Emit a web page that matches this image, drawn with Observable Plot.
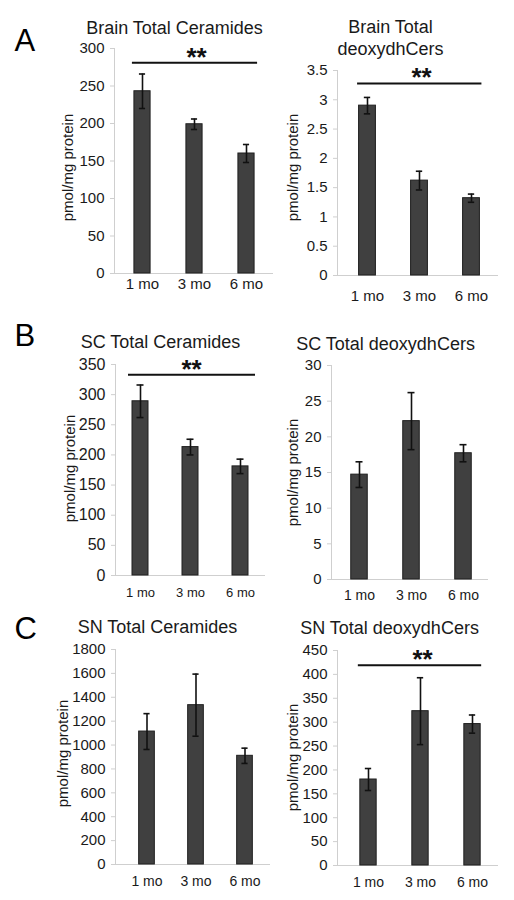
<!DOCTYPE html>
<html>
<head>
<meta charset="utf-8">
<script src="https://cdn.jsdelivr.net/npm/d3@7"></script>
<script src="https://cdn.jsdelivr.net/npm/@observablehq/plot@0.6"></script>
<style>
  html, body { margin: 0; padding: 0; background: #fff; }
  #page { position: relative; width: 514px; height: 900px; overflow: hidden; background: #fff; }
  .cell { position: absolute; }
</style>
</head>
<body>
<div id="page"></div>
<script>
// ---------- data ----------
const months = ["1 mo", "3 mo", "6 mo"];

const brainCerMean = [243, 199, 160];
const brainCerErr  = [23, 7, 12];
const brainDeoxyMean = [2.9, 1.62, 1.32];
const brainDeoxyErr  = [0.14, 0.16, 0.07];
const scCerMean = [289, 213, 181];
const scCerErr  = [27, 13, 12];
const scDeoxyMean = [14.7, 22.2, 17.7];
const scDeoxyErr  = [1.8, 4.0, 1.2];
const snCerMean = [1113, 1334, 910];
const snCerErr  = [150, 260, 64];
const snDeoxyMean = [180, 323, 296];
const snDeoxyErr  = [23, 70, 19];

const brainCerTicks = [0, 50, 100, 150, 200, 250, 300];
const brainDeoxyTicks = [0, 0.5, 1, 1.5, 2, 2.5, 3, 3.5];
const scCerTicks = [0, 50, 100, 150, 200, 250, 300, 350];
const scDeoxyTicks = [0, 5, 10, 15, 20, 25, 30];
const snCerTicks = [0, 200, 400, 600, 800, 1000, 1200, 1400, 1600, 1800];
const snDeoxyTicks = [0, 50, 100, 150, 200, 250, 300, 350, 400, 450];

// significance bar levels (null = none)
const brainCerSig = 281;
const brainDeoxySig = 3.28;
const scCerSig = 333;
const scDeoxySig = null;
const snCerSig = null;
const snDeoxySig = 419;

const titles = ["Brain Total Ceramides", "Brain Total\ndeoxydhCers", "SC Total Ceramides",
                "SC Total deoxydhCers", "SN Total Ceramides", "SN Total deoxydhCers"];
const letters = ["A", "B", "C"];
const yLabel = "pmol/mg protein";

// ---------- style ----------
const FONT = "'Liberation Sans', Arial, Helvetica, sans-serif";
const axisColor = "#cfcfcf";
const textColor = "#1a1a1a";
const barFill = "#404040";
const barStroke = "#1f1f1f";
const errColor = "#111";

// ---------- layout (page pixel coordinates) ----------
const layouts = [
  {svg: [0, 0, 282, 305],   axisX: 114, xEnd: 273, yTop: 48,  yBottom: 273, r: [114.5, 273], barW: 17,
   tickFont: 15, xFont: 15, xPad: 5,  title: [174, 33], label: [68, 167], letter: [14, 50], starDx: 2, sigExt: [2, 3]},
  {svg: [282, 0, 232, 305], axisX: 337, xEnd: 498, yTop: 70,  yBottom: 275, r: [340, 498], barW: 17.5,
   tickFont: 15, xFont: 15, xPad: 15, title: [390, 54], label: [293, 167], starDx: 2, sigExt: [1.5, 2]},
  {svg: [0, 305, 282, 300], axisX: 115, xEnd: 265, yTop: 364, yBottom: 575, r: [115, 265], barW: 16,
   tickFont: 16, xFont: 13, xPad: 12, title: [160, 347], label: [70, 468], letter: [14, 345], starDx: 1, sigExt: [4, 7]},
  {svg: [282, 305, 232, 300], axisX: 331, xEnd: 488, yTop: 365, yBottom: 579, r: [333, 489], barW: 16.5,
   tickFont: 15, xFont: 14, xPad: 11, title: [385, 349], label: [293, 472]},
  {svg: [0, 605, 282, 295], axisX: 115, xEnd: 270, yTop: 649, yBottom: 864, r: [120.5, 270], barW: 16.5,
   tickFont: 15, xFont: 14, xPad: 12, title: [157, 632], label: [63, 753], letter: [14, 638]},
  {svg: [282, 605, 232, 295], axisX: 337, xEnd: 498, yTop: 650, yBottom: 865, r: [341, 499], barW: 17,
   tickFont: 15, xFont: 14, xPad: 12, title: [389, 633], label: [293, 757], starDx: 2, sigExt: [2, 1]}
];

const series = [
  [brainCerMean, brainCerErr, brainCerTicks, brainCerSig],
  [brainDeoxyMean, brainDeoxyErr, brainDeoxyTicks, brainDeoxySig],
  [scCerMean, scCerErr, scCerTicks, scCerSig],
  [scDeoxyMean, scDeoxyErr, scDeoxyTicks, scDeoxySig],
  [snCerMean, snCerErr, snCerTicks, snCerSig],
  [snDeoxyMean, snDeoxyErr, snDeoxyTicks, snDeoxySig]
];

function panel(k) {
  const [means, errs, ticks, sig] = series[k];
  const L = layouts[k];
  const [sx, sy, sw, sh] = L.svg;
  const rows = months.map((m, i) => ({month: m, mean: means[i], lo: means[i] - errs[i], hi: means[i] + errs[i]}));
  const step = (L.r[1] - L.r[0]) / months.length;
  const barInset = (step - L.barW) / 2;
  const capInset = (step - 7) / 2;
  const midY = (L.yTop + L.yBottom) / 2;

  const marks = [
    Plot.frame({anchor: "left", stroke: axisColor}),
    Plot.ruleY([0], {stroke: axisColor}),
    Plot.axisY({ticks, tickSize: 4, tickPadding: 6, fontSize: L.tickFont, stroke: axisColor, fill: textColor,
                tickFormat: d => String(d), label: null}),
    Plot.axisX({tickSize: 0, tickPadding: L.xPad, fontSize: L.xFont, fill: textColor, label: null}),
    Plot.barY(rows, {x: "month", y: "mean", fill: barFill, stroke: barStroke, strokeWidth: 1,
                     insetLeft: barInset, insetRight: barInset}),
    Plot.ruleX(rows, {x: "month", y1: "lo", y2: "hi", stroke: errColor, strokeWidth: 1.6}),
    Plot.tickY(rows, {x: "month", y: "lo", stroke: errColor, strokeWidth: 1.6, insetLeft: capInset, insetRight: capInset}),
    Plot.tickY(rows, {x: "month", y: "hi", stroke: errColor, strokeWidth: 1.6, insetLeft: capInset, insetRight: capInset}),
    Plot.text([titles[k]], {frameAnchor: "top-left", text: d => d, textAnchor: "middle", lineAnchor: "bottom",
                            dx: L.title[0] - L.axisX, dy: L.title[1] - L.yTop, fontSize: 18, lineHeight: 1.17,
                            fill: textColor}),
    Plot.text([yLabel], {frameAnchor: "left", text: d => d, rotate: -90, textAnchor: "middle", lineAnchor: "middle",
                         dx: L.label[0] - L.axisX, dy: L.label[1] - midY, fontSize: 15, fill: textColor})
  ];
  if (L.letter) {
    const li = Math.floor(k / 2);
    marks.push(Plot.text([letters[li]], {frameAnchor: "top-left", text: d => d, textAnchor: "start", lineAnchor: "bottom",
                         dx: L.letter[0] - L.axisX, dy: L.letter[1] - L.yTop, fontSize: 31, fill: "#000"}));
  }
  if (sig != null) {
    marks.push(Plot.ruleY([sig], {y: d => d, x1: () => months[0], x2: () => months[months.length - 1],
                                  insetLeft: barInset - L.sigExt[0], insetRight: barInset - L.sigExt[1],
                                  stroke: errColor, strokeWidth: 2}));
    marks.push(Plot.text([sig], {x: () => months[1], y: d => d, text: () => "**", fontSize: 26, fontWeight: "bold",
                                 lineAnchor: "bottom", dy: 3, dx: L.starDx || 0, fill: errColor}));
  }

  const chart = Plot.plot({
    width: sw, height: sh,
    marginLeft: L.axisX - sx, marginRight: sx + sw - L.xEnd,
    marginTop: L.yTop - sy, marginBottom: sy + sh - L.yBottom,
    x: {type: "band", domain: months, range: [L.r[0] - sx, L.r[1] - sx], padding: 0},
    y: {domain: [ticks[0], ticks[ticks.length - 1]]},
    style: {background: "transparent", overflow: "visible", fontFamily: FONT, color: textColor},
    marks
  });
  const div = document.createElement("div");
  div.className = "cell";
  div.style.left = sx + "px";
  div.style.top = sy + "px";
  div.style.width = sw + "px";
  div.style.height = sh + "px";
  div.appendChild(chart);
  document.getElementById("page").appendChild(div);
}

for (let k = 0; k < series.length; k++) panel(k);
</script>
</body>
</html>
